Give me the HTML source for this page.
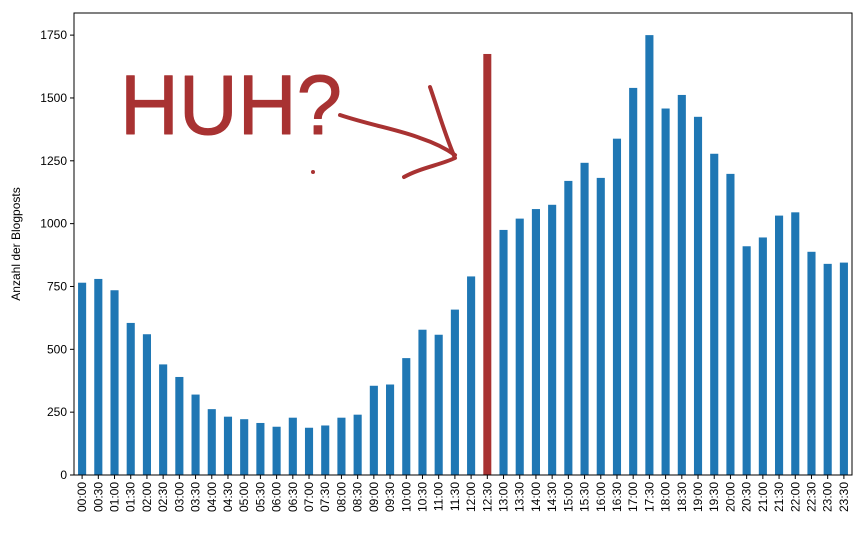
<!DOCTYPE html>
<html><head><meta charset="utf-8"><style>
body{margin:0;background:#fff;}
svg text{font-family:"Liberation Sans","DejaVu Sans",sans-serif;}
</style></head><body>
<svg id="c" width="862" height="535" xmlns="http://www.w3.org/2000/svg">
<rect width="862" height="535" fill="#fff"/>
<g id="bars"></g>
<g id="axes"></g>
<g stroke="#a83232" fill="none" stroke-linecap="round" stroke-linejoin="round">
<text x="120" y="134" font-size="84" stroke-width="1" fill="#a83232" stroke="#a83232" textLength="222" lengthAdjust="spacingAndGlyphs">HUH?</text>
<circle cx="313" cy="172" r="2" fill="#a83232" stroke="none"/>
<path d="M340 115 C370 125 400 130 420 138 C435 143 445 148 455 155" stroke-width="4"/>
<path d="M430 87 C438 110 445 135 455 158 C440 165 420 168 404 177" stroke-width="4"/>
</g>
</svg>
<script>
const categories=["00:00","00:30","01:00","01:30","02:00","02:30","03:00","03:30","04:00","04:30","05:00","05:30","06:00","06:30","07:00","07:30","08:00","08:30","09:00","09:30","10:00","10:30","11:00","11:30","12:00","12:30","13:00","13:30","14:00","14:30","15:00","15:30","16:00","16:30","17:00","17:30","18:00","18:30","19:00","19:30","20:00","20:30","21:00","21:30","22:00","22:30","23:00","23:30"];
const values=[765,780,735,605,560,440,390,320,262,232,222,207,192,228,188,197,228,240,355,360,465,578,558,658,790,0,975,1020,1058,1075,1170,1242,1182,1338,1540,1750,1458,1512,1425,1278,1198,910,945,1032,1045,888,840,845];
const yTicks=[0,250,500,750,1000,1250,1500,1750];
const markerIndex=25;
const markerValue=1675;
const NS="http://www.w3.org/2000/svg";
const L=74,R=852,T=13,B=475;
const yMax=1838;
const x=i=>L+(i+0.5)*(R-L)/categories.length;
const y=v=>B-v*(B-T)/yMax;
const bw=0.5*(R-L)/categories.length;
function mk(t,a,p){const e=document.createElementNS(NS,t);for(const k in a)e.setAttribute(k,a[k]);p.appendChild(e);return e;}
const bars=document.getElementById('bars'),axes=document.getElementById('axes');
values.forEach((v,i)=>{const r=mk('rect',{x:x(i)-bw/2,y:y(v),width:bw,height:B-y(v),fill:'#1f77b4'},bars);

});
const m=mk('rect',{x:x(markerIndex)-4,y:y(markerValue),width:8,height:B-y(markerValue),fill:'#a83232'},bars);


const f=mk('rect',{x:L,y:T,width:R-L,height:B-T,fill:'none',stroke:'#000','stroke-width':1},axes);


yTicks.forEach(t=>{mk('line',{x1:L-4,x2:L,y1:y(t),y2:y(t),stroke:'#000'},axes);
const tx=mk('text',{x:L-7,y:y(t)+4,'font-size':12,'text-anchor':'end'},axes);tx.textContent=t;

});
categories.forEach((c,i)=>{mk('line',{x1:x(i),x2:x(i),y1:B,y2:B+4,stroke:'#000'},axes);
const tx=mk('text',{x:0,y:0,'font-size':12,'text-anchor':'end',transform:`translate(${x(i)+4},${B+7}) rotate(-90)`},axes);tx.textContent=c;

});
const yl=mk('text',{x:0,y:0,'font-size':12,'text-anchor':'middle',transform:`translate(20,${(T+B)/2}) rotate(-90)`},axes);yl.textContent='Anzahl der Blogposts';


</script>
</body></html>
